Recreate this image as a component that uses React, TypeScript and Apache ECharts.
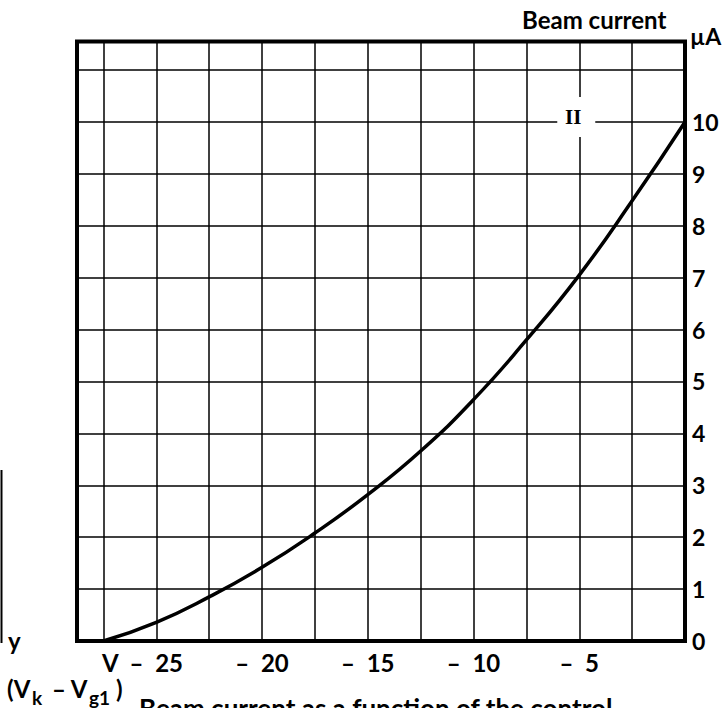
import React, { useEffect, useRef } from "react";
import * as echarts from "echarts";

// Control voltage (V) and beam current (µA)
const voltage = [-27.5, -25, -22.5, -20, -17.5, -15, -12.5, -10, -7.5, -5, -2.5, 0];
const beamCurrent = [0, 0.36, 0.85, 1.42, 2.08, 2.82, 3.66, 4.65, 5.8, 7.05, 8.48, 10];

// Vertical grid lines (every 2.5 V)
const xGridValues = [-27.5, -25, -22.5, -20, -17.5, -15, -12.5, -10, -7.5, -5, -2.5];
// X tick labels
const xTickValues = [-27.5, -25, -20, -15, -10, -5];
const xTickLabels = ["V", "–  25", "–  20", "–  15", "–  10", "–  5"];
// Y tick labels
const yTickValues = [0, 1, 2, 3, 4, 5, 6, 7, 8, 9, 10];

const curveLabel = "II";
const curveLabelAt = [-5, 10];

const FONT = "Lato, 'Noto Sans', sans-serif";

export default function App() {
  const ref = useRef<HTMLDivElement>(null);
  useEffect(() => {
    if (!ref.current) return;
    const chart = echarts.init(ref.current, undefined, { renderer: "svg" });
    const data = voltage.map((v, i) => [v, beamCurrent[i]]);
    chart.setOption({
      animation: false,
      backgroundColor: "#ffffff",
      grid: {
        left: 77,
        right: 40,
        top: 41.5,
        bottom: 67,
        show: true,
        borderColor: "#000",
        borderWidth: 4,
        backgroundColor: "transparent",
      },
      xAxis: {
        type: "value",
        min: -28.75,
        max: 0,
        interval: 1.25,
        axisLine: { show: false },
        axisTick: { show: false },
        splitLine: { show: false },
        axisLabel: {
          margin: 9,
          color: "#000",
          fontFamily: FONT,
          fontWeight: "bold",
          fontSize: 24,
          showMinLabel: true,
          showMaxLabel: true,
          formatter: (v: number) => {
            const idx = xTickValues.findIndex((t) => Math.abs(t - v) < 0.01);
            if (idx < 0) return "";
            if (idx === 0) return "{v|" + xTickLabels[0] + "}";
            return xTickLabels[idx];
          },
          rich: {
            v: {
              color: "#000",
              fontFamily: FONT,
              fontWeight: "bold",
              fontSize: 24,
              padding: [0, 0, 0, 14],
            },
          },
        },
      },
      yAxis: {
        type: "value",
        position: "right",
        min: 0,
        max: 11.55,
        interval: 1,
        axisLine: { show: false },
        axisTick: { show: false },
        splitLine: { show: true, lineStyle: { color: "#000", width: 1.5 } },
        axisLabel: {
          margin: 7,
          color: "#000",
          fontFamily: FONT,
          fontWeight: "bold",
          fontSize: 23,
          formatter: (v: number) => {
            const idx = yTickValues.findIndex((t) => Math.abs(t - v) < 0.001);
            return idx < 0 ? "" : String(yTickValues[idx]);
          },
        },
      },
      series: [
        {
          type: "line",
          name: "grid",
          data: [],
          z: 1,
          silent: true,
          markLine: {
            z: 1,
            silent: true,
            symbol: "none",
            animation: false,
            label: { show: false },
            lineStyle: { color: "#000", width: 1.5, type: "solid" },
            data: xGridValues.map((v) => ({ xAxis: v })),
          },
        },
        {
          type: "line",
          name: "Beam current",
          data,
          smooth: 0.5,
          showSymbol: false,
          symbol: "none",
          z: 3,
          lineStyle: { color: "#000", width: 3.5 },
          markPoint: {
            z: 10,
            silent: true,
            animation: false,
            data: [
              {
                coord: curveLabelAt,
                symbol: "rect",
                symbolSize: [38, 40],
                symbolOffset: [-3, -5],
                itemStyle: { color: "#fff" },
                label: {
                  show: true,
                  formatter: curveLabel,
                  color: "#000",
                  fontFamily: "'Liberation Serif', 'DejaVu Serif', serif",
                  fontWeight: "bold",
                  fontSize: 21,
                  offset: [-3, 0],
                },
              },
            ],
          },
        },
      ],
      graphic: [
        {
          type: "text",
          left: 522,
          top: 7,
          style: { text: "Beam current", fill: "#000", font: `bold 24px ${FONT}` },
        },
        {
          type: "text",
          left: 690,
          top: 24,
          style: { text: "µA", fill: "#000", font: `bold 23px ${FONT}` },
        },
        {
          type: "line",
          shape: { x1: 1.5, y1: 470, x2: 1.5, y2: 643 },
          style: { stroke: "#000", lineWidth: 2 },
        },
        {
          type: "text",
          left: 8,
          top: 628,
          style: { text: "y", fill: "#000", font: `bold 24px ${FONT}` },
        },
        {
          type: "text",
          left: 7,
          top: 676,
          style: { text: "(V", fill: "#000", font: `bold 24px ${FONT}` },
        },
        {
          type: "text",
          left: 32,
          top: 688,
          style: { text: "k", fill: "#000", font: `bold 19px ${FONT}` },
        },
        {
          type: "text",
          left: 52,
          top: 676,
          style: { text: "– V", fill: "#000", font: `bold 24px ${FONT}` },
        },
        {
          type: "text",
          left: 89,
          top: 688,
          style: { text: "g1", fill: "#000", font: `bold 19px ${FONT}` },
        },
        {
          type: "text",
          left: 116,
          top: 676,
          style: { text: ")", fill: "#000", font: `bold 24px ${FONT}` },
        },
        {
          type: "text",
          left: 139,
          top: 695,
          style: {
            text: "Beam current as a function of the control",
            fill: "#000",
            font: `bold 26px ${FONT}`,
          },
        },
      ],
    });
    return () => chart.dispose();
  }, []);
  return (
    <div
      ref={ref}
      style={{ position: "absolute", left: 0, top: 0, width: 725, height: 708, background: "#fff" }}
    />
  );
}
